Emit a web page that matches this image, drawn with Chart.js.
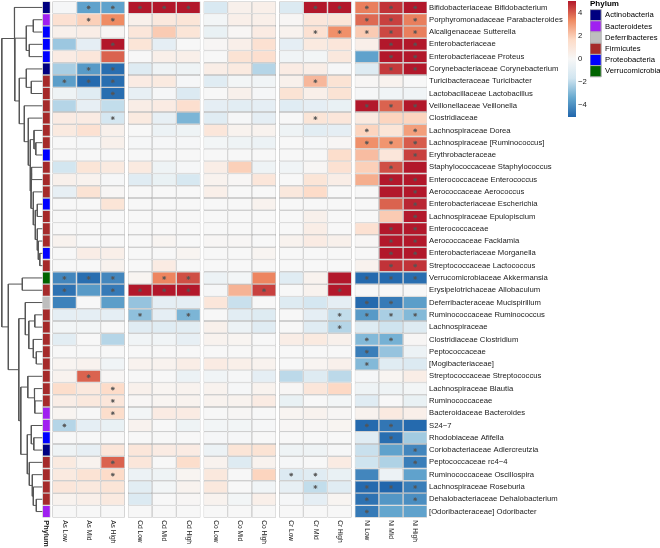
<!DOCTYPE html>
<html>
<head>
<meta charset="utf-8">
<title>Phylum heatmap</title>
<script src="https://cdn.jsdelivr.net/npm/chart.js@4"></script>
<style>
  html, body { margin: 0; padding: 0; background: #fff; }
  #wrap { position: relative; width: 660px; height: 548px; overflow: hidden; }
  canvas { position: absolute; display: block; }
</style>
</head>
<body>
<div id="wrap">
  <canvas id="heat" width="660" height="548" style="left:0;top:0"></canvas>
  <canvas id="scaleBar" width="40" height="125" style="left:560px;top:0"></canvas>
  <canvas id="phylumKey" width="74" height="90" style="left:590px;top:0"></canvas>
</div>
<script>
const rowLabels = [
  "Bifidobacteriaceae Bifidobacterium", "Porphyromonadaceae Parabacteroides", "Alcaligenaceae Sutterella",
  "Enterobacteriaceae", "Enterobacteriaceae Proteus", "Corynebacteriaceae Corynebacterium",
  "Turicibacteraceae Turicibacter", "Lactobacillaceae Lactobacillus", "Veillonellaceae Veillonella",
  "Clostridiaceae", "Lachnospiraceae Dorea", "Lachnospiraceae [Ruminococcus]", "Erythrobacteraceae",
  "Staphylococcaceae Staphylococcus", "Enterococcaceae Enterococcus", "Aerococcaceae Aerococcus",
  "Enterobacteriaceae Escherichia", "Lachnospiraceae Epulopiscium", "Enterococcaceae",
  "Aerococcaceae Facklamia", "Enterobacteriaceae Morganella", "Streptococcaceae Lactococcus",
  "Verrucomicrobiaceae Akkermansia", "Erysipelotrichaceae Allobaculum", "Deferribacteraceae Mucispirillum",
  "Ruminococcaceae Ruminococcus", "Lachnospiraceae", "Clostridiaceae Clostridium", "Peptococcaceae",
  "[Mogibacteriaceae]", "Streptococcaceae Streptococcus", "Lachnospiraceae Blautia", "Ruminococcaceae",
  "Bacteroidaceae Bacteroides", "S24\u22127", "Rhodobiaceae Afifella", "Coriobacteriaceae Adlercreutzia",
  "Peptococcaceae rc4\u22124", "Ruminococcaceae Oscillospira", "Lachnospiraceae Roseburia",
  "Dehalobacteriaceae Dehalobacterium", "[Odoribacteraceae] Odoribacter"
];

const phylumNames = ["Actinobacteria", "Bacteroidetes", "Deferribacteres", "Firmicutes", "Proteobacteria", "Verrucomicrobia"];
const phylumColors = ["#000080", "#a020f0", "#bebebe", "#a52a2a", "#0000ff", "#006400"];
// index into phylumNames, one per row
const rowPhylum = [0,1,4,4,4,0,3,3,3,3,3,3,4,3,3,3,4,3,3,3,4,3,5,3,2,3,3,3,3,3,3,3,3,1,1,4,0,3,3,3,3,1];

const asLow  = [-0.1,1.3,.4,-2.5,.7,-2.3,-3.6,-.4,-2.1,.7,.8,0,0,-1.6,.4,-.7,0,0,0,.3,0,0,-4.2,-4.7,-4.3,-.8,-.2,-.9,0,.2,.3,1.5,.6,.2,-2.1,0,-.4,.8,.8,1,.3,0];
const asMid  = [-3.5,1.9,.6,-.8,1,-3.7,-4.9,-1,-.7,.7,1.3,-.1,0,1.1,.3,1.2,0,0,0,0,.6,0,-4.8,-3.7,0,-.8,-.2,0,0,.3,3.9,.9,.9,0,-.8,0,-.7,.3,1.2,.9,.5,0];
const asHigh = [-3.5,3.3,.1,5,3.9,-4.8,-4.8,-4.8,-1.9,-1.5,.4,.4,0,.8,-.1,.1,1.1,0,0,0,.5,.3,-4.2,-4.5,-3.6,-.8,0,-2.1,0,-.3,.1,1.6,1,1.5,-.6,0,1,3.9,1.6,1.1,.8,0];
const cdLow  = [5,.4,1,1.1,0,-1.1,.7,-.7,.6,.8,0,-.1,0,.8,-1,0,0,0,0,0,0,0,.2,5,-2.6,-2.7,-1,-.3,0,.3,0,.4,.1,-.2,.3,0,1,1,-.5,-.9,-1.2,0];
const cdMid  = [5,.9,2,-.8,.5,-.4,.8,-.1,.7,-.7,-.5,-.1,0,-.4,-.6,0,0,0,0,.2,0,.7,3.4,5,-.8,-.8,-1,-.3,0,.3,0,.2,.2,.7,0,0,.7,0,-.4,-.2,0,0];
const cdHigh = [5,1.1,1.1,0,.5,-.4,-.1,-1.2,1.4,-3,-.4,-.1,0,-.1,-1.4,0,0,0,0,0,.2,0,4.2,5,-.8,-3,-.9,-.7,0,.6,-.5,.3,.3,.7,-.4,0,.7,1.5,.2,.3,.1,0];
const coLow  = [-1.3,-.2,-.6,.1,0,.6,-1,0,-.8,-1,1,-.2,0,.6,.3,.5,0,0,0,.1,0,0,-.5,-.1,1,0,.4,.3,0,.7,-.3,.3,.3,0,-.2,-.1,-.5,.3,.9,.9,.3,0];
const coMid  = [.4,.5,.1,.5,1.2,.8,-.2,.4,-.9,-.1,.3,-.4,0,1.9,.1,0,0,0,0,.1,0,0,-.2,2.5,-1.8,-.9,-.5,.2,0,.5,-.1,-.1,.3,.1,-.2,-.1,1.1,-1.1,0,0,-.2,0];
const coHigh = [.5,.5,.7,1.3,1.4,-2.1,-.3,-.1,-.8,-.8,.3,-.5,0,-.4,1,0,.3,0,0,0,.2,0,3.4,4.4,0,-1.1,-1,0,0,.3,-.8,.3,.7,0,-.1,0,1.2,.3,1.8,-.3,.5,0];
const crLow  = [-1.2,.1,.3,-.8,-.3,.7,.4,1.2,-1,0,-.4,0,0,-.3,0,.9,0,0,0,.3,0,0,-1,0,-1.1,0,0,.6,0,0,-2,.1,-.6,.2,.1,0,-.4,-.1,-1.2,-.7,-.1,0];
const crMid  = [5,1,1.3,.8,-.2,.6,2.4,.5,-.8,1.1,-.9,-.1,0,.1,1.1,1.6,0,.4,.6,.7,0,0,.3,.3,-1.5,-.8,-1,.8,0,.2,-1.1,1,0,.3,.1,0,-.4,0,-1,-1.9,-.8,0];
const crHigh = [5,1.1,3.2,1,.9,-.1,1.2,1.2,-.6,1,-.8,.1,1.5,1.3,.6,0,0,0,0,.4,0,0,5,5,-.8,-1.9,-2.1,.4,0,.4,-2,1.7,-.2,.1,.2,0,-.1,.7,-.6,-1,.2,0];
const niLow  = [3.5,3.8,2,.5,-3.5,-1.1,.1,-.1,5,.8,1.8,3.2,2.3,1.9,2.6,0,0,0,1.3,.1,0,.3,-4.9,0,-4.9,-3.7,-1.1,-2.9,-4.4,-2.9,-.1,-.4,-1,.3,-4.9,-1,-1.8,-1.7,-4.2,-4.9,-4.7,-4.5];
const niMid  = [4.6,4.4,4.3,5,5,4.5,.3,-.3,3.9,1.8,1.1,3.1,1,4.2,5,5,3.9,2,5,5,5,4.6,-4.9,0,-4.5,-2.3,-1.7,-3.1,-2.6,-1,.2,-.4,0,.8,-4.6,-4.8,-3.5,-2.2,-.5,-5,-3.8,-3.4];
const niHigh = [5,3.5,3.5,5,5,5,0,-.3,5,1.8,2.9,4,4.4,5,5,5,4.8,5,5,5,5,4.6,-4.8,0,-3.6,-2.9,-1.1,.1,-.5,-1.2,.6,-.2,-.6,.5,-4.9,-2.4,-4.2,-4.4,-3.5,-4.4,-4,-3.5];

// rows that carry a * in each column
const asLowSig  = [6,22,23,34];
const asMidSig  = [0,1,5,6,22,30];
const asHighSig = [0,1,3,5,6,7,9,22,23,31,32,33,37,38];
const cdLowSig  = [0,23,25];
const cdMidSig  = [0,22,23];
const cdHighSig = [0,22,23,25];
const coLowSig  = [];
const coMidSig  = [];
const coHighSig = [23];
const crLowSig  = [38];
const crMidSig  = [0,2,6,9,38,39];
const crHighSig = [0,2,23,25,26];
const niLowSig  = [0,1,2,8,10,11,22,24,25,27,28,29,34,39,40,41];
const niMidSig  = [0,1,2,3,4,5,8,11,13,14,18,19,20,21,22,24,25,27,34,35,39];
const niHighSig = [0,1,2,3,4,5,8,10,11,12,14,15,16,17,18,19,20,21,22,25,36,37,39,40];

const columns = [
  ["As Low", asLow, asLowSig], ["As Mid", asMid, asMidSig], ["As High", asHigh, asHighSig],
  ["Cd Low", cdLow, cdLowSig], ["Cd Mid", cdMid, cdMidSig], ["Cd High", cdHigh, cdHighSig],
  ["Co Low", coLow, coLowSig], ["Co Mid", coMid, coMidSig], ["Co High", coHigh, coHighSig],
  ["Cr Low", crLow, crLowSig], ["Cr Mid", crMid, crMidSig], ["Cr High", crHigh, crHighSig],
  ["Ni Low", niLow, niLowSig], ["Ni Mid", niMid, niMidSig], ["Ni High", niHigh, niHighSig]
];

// row clustering as [height, left, right], a plain number is a row
const rowTree = [40.5,
  [28, 0,
    [27.5,
      [16, [9, 1, 2], [13, 3, 4]],
      [23,
        [16, 5, [11, 6, 7]],
        [18, 8,
          [14, 9,
            [12,
              [8.3, 10, [6.5, 11, 12]],
              [11.3, [10.7, 13, 14],
                [9, 15,
                  [7, [5, 16, 17],
                    [5, 18, [4, 19, [2.5, 20, 21]]]]]]]]]]]],
  [34,
    [20, 22, 23],
    [23.5,
      [17, 24,
        [13.5, [7.5, 25, 26], [9, 27, [6, 28, 29]]]],
      [21.5,
        [14.5, 30, [8, 31, [7.5, 32, 33]]],
        [15,
          [11, 34, [8.5, 35, 36]],
          [13, 37, [10, 38, [9, 39, [6, 40, 41]]]]]]]]];

const rampColors = ["#2166ac", "#67a9cf", "#d1e5f0", "#f7f7f7", "#fddbc7", "#ef8a62", "#b2182b"];
const scaleTicks = [-4, -2, 0, 2, 4];

const FONT = "'Liberation Sans', Arial, sans-serif";
const GRID = "#b0b0b0";
const CELL_W = 24.2;
const GROUP_GAP = 3;
const HEAT_LEFT = 52.3;
const PHYLUM_LEFT = 42.3;
const PHYLUM_W = 8.2;

const hexToRgb = (h) => [1, 3, 5].map((i) => parseInt(h.slice(i, i + 2), 16));

function valueColor(v) {
  const t = (Math.max(-5, Math.min(5, v)) + 5) / 10 * (rampColors.length - 1);
  const i = Math.min(Math.floor(t), rampColors.length - 2);
  const a = hexToRgb(rampColors[i]);
  const b = hexToRgb(rampColors[i + 1]);
  const mix = a.map((c, k) => Math.round(c + (b[k] - c) * (t - i)));
  return `rgb(${mix.join(",")})`;
}

const colStart = (i) => HEAT_LEFT + i * CELL_W + Math.floor(i / 3) * GROUP_GAP;

// flatten the tree to line points, NaN breaks the line between the branches
const dendroPoints = [];
function walkTree(node) {
  if (typeof node === "number") return { x: PHYLUM_LEFT, y: node };
  const [h, left, right] = node;
  const a = walkTree(left);
  const b = walkTree(right);
  const x = PHYLUM_LEFT - h;
  dendroPoints.push(a, { x, y: a.y }, { x, y: b.y }, b, { x: NaN, y: NaN });
  return { x, y: (a.y + b.y) / 2 };
}
walkTree(rowTree);

const starPoints = columns.flatMap(([, , sig], i) =>
  sig.map((row) => ({ x: colStart(i) + CELL_W / 2, y: row }))
);

const cellDefaults = {
  type: "bar",
  indexAxis: "y",
  xAxisID: "x",
  yAxisID: "y",
  grouped: false,
  barPercentage: 1,
  categoryPercentage: 1,
  borderColor: GRID,
  borderWidth: 0.7,
  borderSkipped: false,
  inflateAmount: 0,
};

const cellSets = columns.map(([name, values], i) => ({
  ...cellDefaults,
  label: name,
  data: values.map(() => [colStart(i), colStart(i) + CELL_W]),
  backgroundColor: values.map(valueColor),
}));

// the scale reserves room for half a label at each end, the plot has to start at the edge
const noEndPadding = (s) => {
  s.paddingTop = 0;
  s.paddingBottom = 0;
};

// column names read top to bottom, which the x axis ticks cannot do
const columnLabels = {
  id: "columnLabels",
  afterDraw(chart) {
    const { ctx, scales } = chart;
    const top = chart.chartArea.bottom + 2.5;
    ctx.save();
    ctx.textAlign = "left";
    ctx.textBaseline = "middle";
    const put = (text, value, font) => {
      ctx.save();
      ctx.translate(scales.x.getPixelForValue(value), top);
      ctx.rotate(Math.PI / 2);
      ctx.font = font;
      ctx.fillStyle = "#1a1a1a";
      ctx.fillText(text, 0, 0);
      ctx.restore();
    };
    put("Phylum", PHYLUM_LEFT + PHYLUM_W / 2, `bold 7.4px ${FONT}`);
    columns.forEach(([name], i) => put(name, colStart(i) + CELL_W / 2, `6.6px ${FONT}`));
    ctx.restore();
  },
};

new Chart(document.getElementById("heat"), {
  type: "bar",
  data: {
    labels: rowLabels,
    datasets: [
      {
        type: "scatter",
        label: "significant",
        xAxisID: "x",
        yAxisID: "yRow",
        data: starPoints,
        pointStyle: "star",
        pointRadius: 1.9,
        borderColor: "#555",
        borderWidth: 0.9,
      },
      {
        type: "scatter",
        label: "rows",
        xAxisID: "x",
        yAxisID: "yRow",
        data: dendroPoints,
        showLine: true,
        spanGaps: false,
        pointRadius: 0,
        borderColor: "#555",
        borderWidth: 1,
      },
      {
        ...cellDefaults,
        label: "Phylum",
        data: rowPhylum.map(() => [PHYLUM_LEFT, PHYLUM_LEFT + PHYLUM_W]),
        backgroundColor: rowPhylum.map((p) => phylumColors[p]),
      },
      ...cellSets,
    ],
  },
  options: {
    responsive: false,
    animation: false,
    layout: { padding: { top: 1.3, bottom: 30.3 }, autoPadding: false },
    plugins: { legend: { display: false }, tooltip: { enabled: false } },
    scales: {
      x: { type: "linear", min: 0, max: 427, offset: false, display: false },
      yRow: { type: "linear", min: -0.5, max: 41.5, reverse: true, display: false },
      y: {
        type: "category",
        position: "right",
        offset: true,
        grid: { display: false, drawTicks: false },
        border: { display: false },
        afterFit: (s) => { s.width = 233; noEndPadding(s); },
        ticks: {
          autoSkip: false,
          padding: 2,
          color: "#1a1a1a",
          font: { family: FONT, size: 7.7 },
          maxRotation: 0,
        },
      },
    },
  },
  plugins: [columnLabels],
});

new Chart(document.getElementById("scaleBar"), {
  type: "bar",
  data: {
    labels: [""],
    datasets: [{
      data: [[-5.04, 5.04]],
      barPercentage: 1,
      categoryPercentage: 1,
      inflateAmount: 0,
      backgroundColor: ({ chart }) => {
        if (!chart.chartArea) return rampColors[3];
        const g = chart.ctx.createLinearGradient(0, chart.chartArea.bottom, 0, chart.chartArea.top);
        rampColors.forEach((c, i) => g.addColorStop(i / (rampColors.length - 1), c));
        return g;
      },
    }],
  },
  options: {
    responsive: false,
    animation: false,
    layout: { padding: { left: 8, top: 1, bottom: 8 }, autoPadding: false },
    plugins: { legend: { display: false }, tooltip: { enabled: false } },
    scales: {
      x: { display: false },
      y: {
        position: "right",
        min: -5.04,
        max: 5.04,
        grid: { display: false, drawTicks: false },
        border: { display: false },
        afterFit: (s) => { s.width = 24; noEndPadding(s); },
        afterBuildTicks: (s) => { s.ticks = scaleTicks.map((value) => ({ value })); },
        ticks: {
          padding: 2,
          color: "#1a1a1a",
          font: { family: FONT, size: 7.7 },
          callback: (v) => String(v).replace("-", "\u2212"),
        },
      },
    },
  },
});

new Chart(document.getElementById("phylumKey"), {
  type: "bar",
  data: { labels: [], datasets: [] },
  options: {
    responsive: false,
    animation: false,
    scales: { x: { display: false }, y: { display: false } },
    plugins: {
      tooltip: { enabled: false },
      legend: {
        position: "left",
        align: "start",
        maxWidth: 74,
        title: {
          display: true,
          text: "Phylum",
          position: "start",
          color: "#000",
          padding: 0,
          font: { family: FONT, size: 8, weight: "bold" },
        },
        labels: {
          boxWidth: 11.2,
          boxHeight: 11.2,
          padding: 0,
          color: "#1a1a1a",
          font: { family: FONT, size: 7.7 },
          generateLabels: () => phylumNames.map((text, i) => ({
            text,
            fillStyle: phylumColors[i],
            strokeStyle: GRID,
            lineWidth: 1,
            index: i,
          })),
        },
      },
    },
  },
});
</script>
</body>
</html>
